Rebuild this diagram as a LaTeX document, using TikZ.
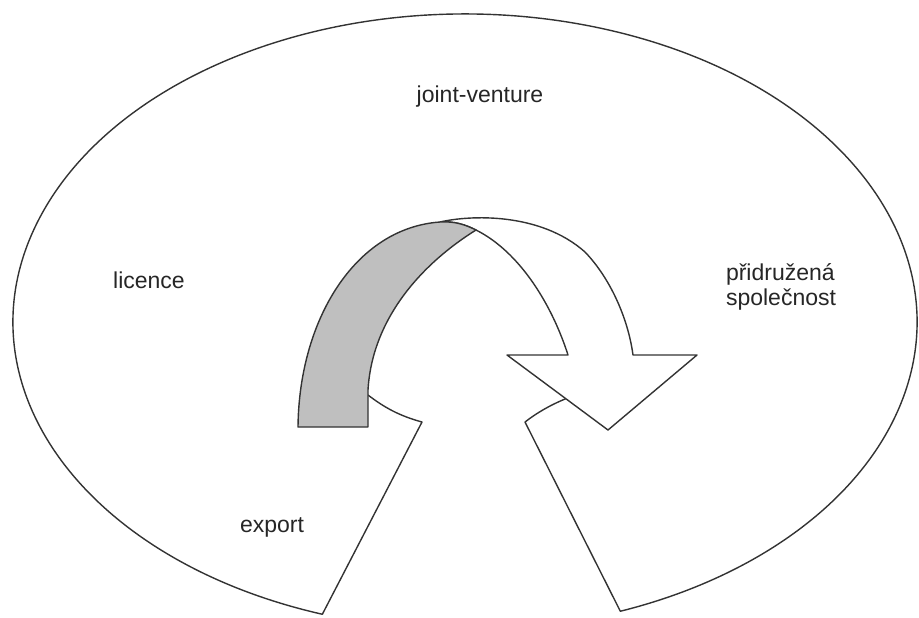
\documentclass[tikz,border=0pt]{standalone}
\usepackage{fontspec}
\setmainfont{Liberation Sans}
\begin{document}
\begin{tikzpicture}[x=0.5pt,y=-0.5pt,
  outline/.style={draw=black!80, line width=0.7pt, line join=round},
  lbl/.style={font=\fontsize{11.5}{12.5}\selectfont, text=black!85, inner sep=0pt}]
\useasboundingbox (0,0) rectangle (919,617);
% outer ring (open at the bottom)
\draw[outline] (368,395) .. controls (385,408) and (400,416) .. (422,422)
  -- ([shift={(465,322)}]108.4:452 and 308)
  arc[start angle=108.4, end angle=429.9, x radius=452, y radius=308]
  -- (525,422) .. controls (538,412) and (552,404) .. (570,397);
% white curved arrow
\draw[outline, fill=white] (440,222) .. controls (455,221) and (466,225) .. (476,230)
  .. controls (520,252) and (552,305) .. (568,355)
  -- (507,355) -- (608,430) -- (697,355) -- (633,355)
  .. controls (628,318) and (610,278) .. (585,252)
  .. controls (540,212) and (470,215) .. (440,222) -- cycle;
% grey band
\draw[outline, fill=gray!50] (298,427) .. controls (299,320) and (355,228) .. (440,222)
  .. controls (455,221) and (466,225) .. (476,230)
  .. controls (420,265) and (372,320) .. (368,390) -- (368,427) -- cycle;
% labels
\node[lbl] (jv) at (480,97) {joint-venture};
\node[lbl] (lic) at (149,280) {licence};
\node[lbl] (exp) at (272,527) {export};
\node[lbl, align=left] (pri) at (781,287) {přidružená\\společnost};
\end{tikzpicture}
\end{document}
